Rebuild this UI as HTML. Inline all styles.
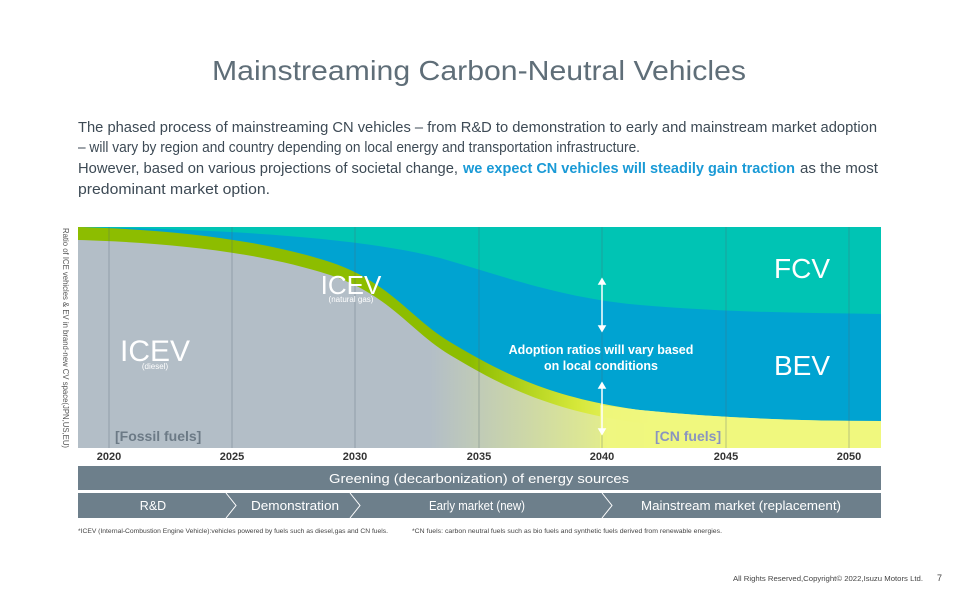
<!DOCTYPE html>
<html><head><meta charset="utf-8"><style>
html,body{margin:0;padding:0;background:#fff;}
svg{display:block;font-family:"Liberation Sans","DejaVu Sans",sans-serif;}
</style></head><body>
<svg width="958" height="599" viewBox="0 0 958 599" xmlns="http://www.w3.org/2000/svg">
<defs>
<linearGradient id="greyg" gradientUnits="userSpaceOnUse" x1="430" y1="0" x2="650" y2="0">
<stop offset="0" stop-color="#b3bec7"/><stop offset="1" stop-color="#eef87e"/>
</linearGradient>
<linearGradient id="greeng" gradientUnits="userSpaceOnUse" x1="470" y1="0" x2="650" y2="0">
<stop offset="0" stop-color="#8dbd00"/><stop offset="0.6" stop-color="#d6e83a"/><stop offset="1" stop-color="#f0f77e"/>
</linearGradient>
</defs>
<text x="479" y="80" font-size="28" fill="#5f6e78" text-anchor="middle" textLength="534" lengthAdjust="spacingAndGlyphs">Mainstreaming Carbon-Neutral Vehicles</text>
<g font-size="14.5" fill="#3d4a55">
<text x="78" y="132" textLength="799" lengthAdjust="spacingAndGlyphs">The phased process of mainstreaming CN vehicles – from R&amp;D to demonstration to early and mainstream market adoption</text>
<text x="78" y="152" textLength="562" lengthAdjust="spacingAndGlyphs">– will vary by region and country depending on local energy and transportation infrastructure.</text>
<text x="78" y="173" textLength="380" lengthAdjust="spacingAndGlyphs">However, based on various projections of societal change,</text>
<text x="463" y="173" textLength="332" lengthAdjust="spacingAndGlyphs" fill="#1a9ad6" font-weight="bold">we expect CN vehicles will steadily gain traction</text>
<text x="800" y="173" textLength="78" lengthAdjust="spacingAndGlyphs">as the most</text>
<text x="78" y="194" textLength="192" lengthAdjust="spacingAndGlyphs">predominant market option.</text>
</g>
<rect x="78" y="227" width="803" height="221" fill="#00c4b4"/>
<path d="M78,227 C200,229 350,235 440,258 C500,275 560,298 640,305 C720,312 800,313 881,314 L881,448 L78,448 Z" fill="#00a3d1"/>
<path d="M78,227 C150,229 250,236 330,262 C390,282 410,318 450,342 C500,372 550,398 640,410 C720,418 800,421 881,421 L881,448 L78,448 Z" fill="url(#greeng)"/>
<path d="M78,240 C150,242 250,249 330,275 C390,295 410,331 450,355 C500,385 550,411 640,423 C720,431 800,434 881,434 L881,448 L78,448 Z" fill="url(#greyg)"/>
<path d="M640,410 C720,418 800,421 881,421 L881,448 L600,448 L600,405 Z" fill="#f0f77e" opacity="0.9"/>
<g stroke="#4f6470" stroke-opacity="0.35" stroke-width="1">
<line x1="109" y1="227" x2="109" y2="448"/><line x1="232" y1="227" x2="232" y2="448"/><line x1="355" y1="227" x2="355" y2="448"/><line x1="479" y1="227" x2="479" y2="448"/><line x1="602" y1="227" x2="602" y2="448"/><line x1="726" y1="227" x2="726" y2="448"/><line x1="849" y1="227" x2="849" y2="448"/>
</g>
<text x="0" y="0" transform="translate(63,228) rotate(90)" font-size="8.5" fill="#555" textLength="220" lengthAdjust="spacingAndGlyphs">Ratio of ICE vehicles &amp; EV in brand-new CV space(JPN,US,EU)</text>
<g fill="#fff">
<text x="155" y="361" font-size="30" text-anchor="middle">ICEV</text>
<text x="155" y="369" font-size="8" text-anchor="middle">(diesel)</text>
<text x="351" y="294" font-size="26" text-anchor="middle">ICEV</text>
<text x="351" y="302" font-size="8" text-anchor="middle">(natural gas)</text>
<text x="802" y="278" font-size="28" text-anchor="middle">FCV</text>
<text x="802" y="375" font-size="28" text-anchor="middle">BEV</text>
<text x="601" y="354" font-size="12.5" font-weight="bold" text-anchor="middle">Adoption ratios will vary based</text>
<text x="601" y="370" font-size="12.5" font-weight="bold" text-anchor="middle">on local conditions</text>
</g>
<g stroke="#fff" stroke-width="1.5" fill="#fff">
<line x1="602" y1="282" x2="602" y2="328"/><path d="M599,284 L602,279 L605,284Z"/><path d="M599,326 L602,331 L605,326Z"/>
<line x1="602" y1="386" x2="602" y2="431"/><path d="M599,388 L602,383 L605,388Z"/><path d="M599,429 L602,434 L605,429Z"/>
</g>
<text x="115" y="441" font-size="14" font-weight="bold" fill="#6c7a86">[Fossil fuels]</text>
<text x="655" y="441" font-size="14" font-weight="bold" fill="#8a95c0">[CN fuels]</text>
<g font-size="11" fill="#333" text-anchor="middle" font-weight="bold">
<text x="109" y="460">2020</text><text x="232" y="460">2025</text><text x="355" y="460">2030</text><text x="479" y="460">2035</text><text x="602" y="460">2040</text><text x="726" y="460">2045</text><text x="849" y="460">2050</text>
</g>
<rect x="78" y="466" width="803" height="24" fill="#6d7f8b"/>
<text x="479" y="483" font-size="13" fill="#fff" text-anchor="middle" textLength="300" lengthAdjust="spacingAndGlyphs">Greening (decarbonization) of energy sources</text>
<rect x="78" y="493" width="803" height="25" fill="#6d7f8b"/>
<g stroke="#fff" stroke-width="1" fill="none">
<path d="M226,493 L236,505.5 L226,518"/><path d="M350,493 L360,505.5 L350,518"/><path d="M602,493 L612,505.5 L602,518"/>
</g>
<g font-size="12.5" fill="#fff" text-anchor="middle">
<text x="153" y="510">R&amp;D</text>
<text x="295" y="510" textLength="88" lengthAdjust="spacingAndGlyphs">Demonstration</text>
<text x="477" y="510" textLength="96" lengthAdjust="spacingAndGlyphs">Early market (new)</text>
<text x="741" y="510" textLength="200" lengthAdjust="spacingAndGlyphs">Mainstream market (replacement)</text>
</g>
<g font-size="6" fill="#444">
<text x="78" y="533" textLength="310" lengthAdjust="spacingAndGlyphs">*ICEV (Internal-Combustion Engine Vehicle):vehicles powered by fuels such as diesel,gas and CN fuels.</text>
<text x="412" y="533" textLength="310" lengthAdjust="spacingAndGlyphs">*CN fuels: carbon neutral fuels such as bio fuels and synthetic fuels derived from renewable energies.</text>
</g>
<text x="733" y="581" font-size="7" fill="#444" textLength="190" lengthAdjust="spacingAndGlyphs">All Rights Reserved,Copyright© 2022,Isuzu Motors Ltd.</text>
<text x="937" y="581" font-size="9" fill="#444">7</text>
</svg>
</body></html>
